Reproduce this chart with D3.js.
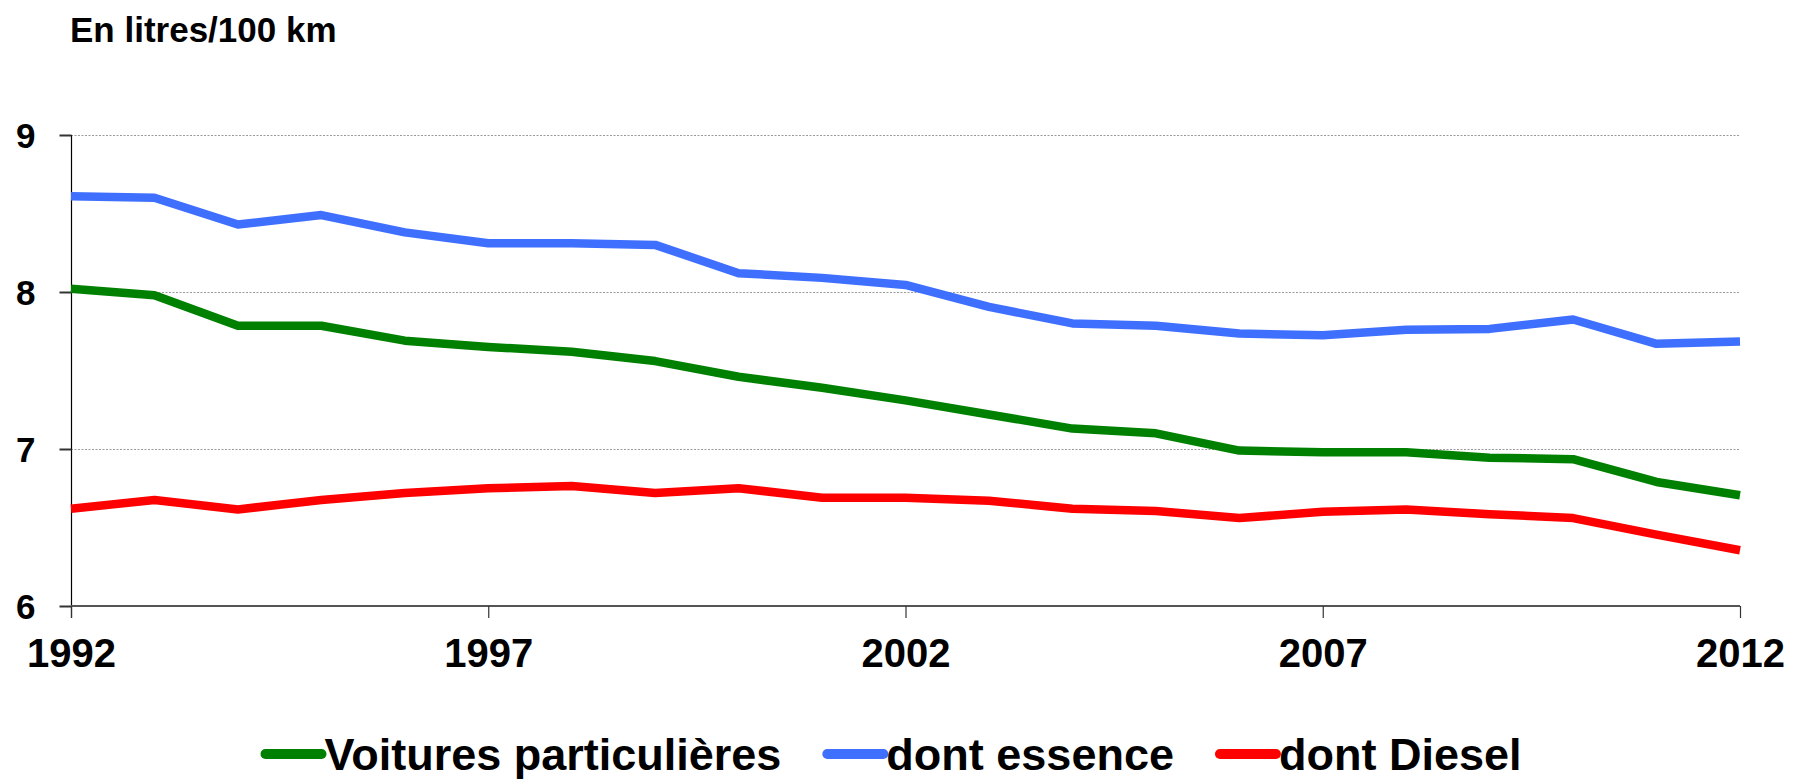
<!DOCTYPE html>
<html>
<head>
<meta charset="utf-8">
<script src="https://cdn.jsdelivr.net/npm/d3@7"></script>
<style>
  html, body { margin: 0; padding: 0; background: #fff; }
  svg { display: block; font-family: "Liberation Sans", Arial, sans-serif; font-weight: bold; }
</style>
</head>
<body>
<svg id="chart" width="1793" height="781"></svg>
<script>
const years = [1992,1993,1994,1995,1996,1997,1998,1999,2000,2001,2002,2003,2004,2005,2006,2007,2008,2009,2010,2011,2012];
const voitures = [8.02,7.98,7.785,7.785,7.69,7.65,7.62,7.56,7.46,7.39,7.31,7.22,7.13,7.10,6.99,6.98,6.98,6.945,6.935,6.79,6.705];
const essence = [8.61,8.60,8.43,8.49,8.38,8.31,8.31,8.30,8.12,8.09,8.045,7.905,7.80,7.785,7.735,7.725,7.76,7.765,7.825,7.67,7.685];
const diesel = [6.62,6.675,6.615,6.675,6.72,6.75,6.765,6.72,6.75,6.69,6.69,6.67,6.62,6.605,6.56,6.60,6.615,6.585,6.56,6.455,6.355];
const seriesNames = ["Voitures particulières","dont essence","dont Diesel"];
const seriesColors = ["#008000","#3f6fff","#ff0000"];
const yTicks = [6,7,8,9];
const xTicks = [1992,1997,2002,2007,2012];
const unitLabel = "En litres/100 km";

const svg = d3.select("#chart");
const pLeft = 71, pRight = 1740, pTop = 135, pBottom = 606;

const x = d3.scaleLinear().domain([1992, 2012]).range([pLeft, pRight]);
const y = d3.scaleLinear().domain([6, 9]).range([pBottom, pTop]);

// title
svg.append("text").attr("x", 70).attr("y", 42)
  .attr("font-size", 35).attr("fill", "#000").text(unitLabel);

// gridlines
svg.append("g").selectAll("line").data(yTicks.filter(d => d > 6)).join("line")
  .attr("x1", pLeft).attr("x2", pRight)
  .attr("y1", d => y(d) + 0.5).attr("y2", d => y(d) + 0.5)
  .attr("stroke", "#9a9a9a").attr("stroke-width", 1).attr("stroke-dasharray", "2,1.5");

// y axis
const yAxis = svg.append("g").attr("transform", `translate(${pLeft + 0.5},0)`)
  .call(d3.axisLeft(y).tickValues(yTicks).tickSize(12).tickPadding(24).tickFormat(d3.format("d")));
yAxis.select(".domain").attr("stroke", "#000").attr("stroke-width", 1.2)
  .attr("d", `M0,${pTop}V${pBottom + 12}`);
yAxis.selectAll(".tick line").attr("stroke", "#333").attr("stroke-width", 2);
yAxis.selectAll(".tick text").attr("font-size", 35).attr("font-family", "Liberation Sans, Arial, sans-serif")
  .attr("font-weight", "bold").attr("fill", "#000").attr("dy", "0.36em");

// x axis
const xAxis = svg.append("g").attr("transform", `translate(0,${pBottom})`)
  .call(d3.axisBottom(x).tickValues(xTicks).tickSize(12).tickPadding(21).tickFormat(d3.format("d")));
xAxis.select(".domain").attr("stroke", "#555").attr("stroke-width", 2.2)
  .attr("d", `M${pLeft},0H${pRight}`);
xAxis.selectAll(".tick line").attr("stroke", "#333").attr("stroke-width", 1.2);
xAxis.selectAll(".tick text").attr("font-size", 40).attr("font-family", "Liberation Sans, Arial, sans-serif")
  .attr("font-weight", "bold").attr("fill", "#000");

// lines
const allSeries = [voitures, essence, diesel];
const line = d3.line().x((d, i) => x(years[i])).y(d => y(d));
svg.append("g").selectAll("path").data(allSeries).join("path")
  .attr("d", line)
  .attr("fill", "none")
  .attr("stroke", (d, i) => seriesColors[i])
  .attr("stroke-width", 8.5)
  .attr("stroke-linejoin", "round");

// legend
const legend = svg.append("g");
const items = legend.selectAll("g").data(seriesNames).join("g");
items.append("line")
  .attr("x1", 0).attr("x2", 56).attr("y1", 0).attr("y2", 0)
  .attr("stroke", (d, i) => seriesColors[i]).attr("stroke-width", 10).attr("stroke-linecap", "round");
items.append("text").attr("x", 59).attr("y", 16)
  .attr("font-size", 45).attr("fill", "#000").text(d => d);
let cx = 0;
items.each(function () {
  const g = d3.select(this);
  g.attr("transform", `translate(${cx},0)`);
  const w = 59 + g.select("text").node().getComputedTextLength();
  cx += w + 46;
});
const totalW = cx - 46;
legend.attr("transform", `translate(${893.5 - totalW / 2},754)`);
</script>
</body>
</html>
